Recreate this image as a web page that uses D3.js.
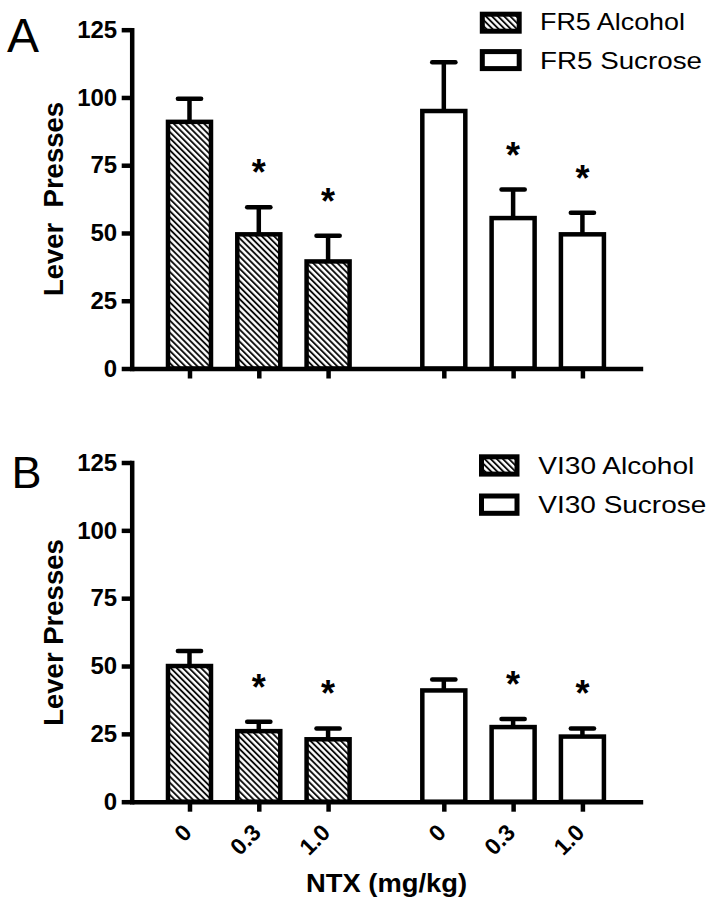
<!DOCTYPE html>
<html><head><meta charset="utf-8">
<script src="https://cdn.jsdelivr.net/npm/d3@7"></script>
<style>
body{margin:0;background:#fff}
svg{display:block}
text{font-family:"Liberation Sans",Arial,Helvetica,sans-serif;fill:#000}
</style>
</head><body><svg id="chart" width="716" height="911"></svg>
<script>
// ---------- data ----------
const doses = ["0", "0.3", "1.0"];
const yTickValues = [0, 25, 50, 75, 100, 125];
const fr5Alcohol = [91, 49.5, 39.5];
const fr5AlcoholSem = [8.5, 10, 9.5];
const fr5Sucrose = [95, 55.5, 49.5];
const fr5SucroseSem = [18, 10.5, 8];
const vi30Alcohol = [50, 26, 23];
const vi30AlcoholSem = [5.5, 3.5, 4];
const vi30Sucrose = [41, 27.5, 24];
const vi30SucroseSem = [4, 3, 3];
const significant = [false, true, true];
const panelLetters = ["A", "B"];
const legendA = ["FR5 Alcohol", "FR5 Sucrose"];
const legendB = ["VI30 Alcohol", "VI30 Sucrose"];
const yTitles = ["Lever\u00a0 Presses", "Lever Presses"];
const xTitle = "NTX (mg/kg)";

// ---------- layout ----------
const svg = d3.select("#chart");
const defs = svg.append("defs");
const pat = defs.append("pattern").attr("id", "hatch")
  .attr("patternUnits", "userSpaceOnUse").attr("width", 4.3).attr("height", 10)
  .attr("patternTransform", "rotate(-45)");
pat.append("rect").attr("width", 4.3).attr("height", 10).attr("fill", "#fff");
pat.append("line").attr("x1", 1).attr("x2", 1).attr("y1", 0).attr("y2", 10)
  .attr("stroke", "#000").attr("stroke-width", 1.8);

const SW = 4.5;
const axisX = 131.7;
const x = d3.scaleLinear().domain([-0.834, 6.54]).range([131.7, 642.7]);
const groupOffset = [0, 3.67];
const barW = 43;

const panels = [
  { letter: panelLetters[0], letterSize: 48, letterX: 7, letterY: 52,
    y0: 368.5, y1: 29.7, title: yTitles[0], titleCy: 199,
    series: [
      { vals: fr5Alcohol, sem: fr5AlcoholSem, fill: "url(#hatch)", name: legendA[0] },
      { vals: fr5Sucrose, sem: fr5SucroseSem, fill: "#fff", name: legendA[1] } ],
    legend: { sx: 482.3, sw: 36.9, sy: [14.2, 51.6], sh: 17, tx: 540, ty: [30, 68.5], tl: [145, 162] },
    showLabels: false },
  { letter: panelLetters[1], letterSize: 45, letterX: 11.5, letterY: 488,
    y0: 801.7, y1: 462.5, title: yTitles[1], titleCy: 632.5,
    series: [
      { vals: vi30Alcohol, sem: vi30AlcoholSem, fill: "url(#hatch)", name: legendB[0] },
      { vals: vi30Sucrose, sem: vi30SucroseSem, fill: "#fff", name: legendB[1] } ],
    legend: { sx: 481.5, sw: 35.5, sy: [456.8, 496], sh: 17.3, tx: 538.3, ty: [474, 512.7], tl: [156, 168] },
    showLabels: true }
];

panels.forEach(p => {
  const y = d3.scaleLinear().domain([0, 125]).range([p.y0, p.y1]);
  const g = svg.append("g");

  // panel letter
  g.append("text").attr("x", p.letterX).attr("y", p.letterY)
    .attr("font-size", p.letterSize).text(p.letter);

  // y title
  g.append("text").attr("transform", `translate(62.5,${p.titleCy}) rotate(-90)`)
    .attr("text-anchor", "middle").attr("font-size", 27.5).attr("font-weight", "bold")
    .text(p.title);

  // bars
  p.series.forEach((s, si) => {
    const slots = s.vals.map((v, i) => i + groupOffset[si]);
    const bg = g.append("g");
    s.vals.forEach((v, i) => {
      const cx = x(slots[i]);
      const top = y(v + s.sem[i]);
      // error stem
      bg.append("line").attr("x1", cx).attr("x2", cx).attr("y1", y(v)).attr("y2", top)
        .attr("stroke", "#000").attr("stroke-width", SW);
      bg.append("line").attr("x1", cx - 11.6).attr("x2", cx + 11.6).attr("y1", top).attr("y2", top)
        .attr("stroke", "#000").attr("stroke-width", SW).attr("stroke-linecap", "round");
      bg.append("rect").attr("x", cx - barW / 2).attr("width", barW)
        .attr("y", y(v)).attr("height", y(0) - y(v))
        .attr("fill", s.fill).attr("stroke", "#000").attr("stroke-width", SW);
      if (significant[i]) {
        bg.append("text").attr("x", cx).attr("y", top - 22)
          .attr("text-anchor", "middle").attr("font-size", 36).attr("font-weight", "bold")
          .text("*");
      }
    });
  });

  // y axis
  const ya = g.append("g").attr("transform", `translate(${axisX},0)`)
    .call(d3.axisLeft(y).tickValues(yTickValues).tickSize(10).tickSizeOuter(0).tickPadding(4.5));
  ya.select(".domain").attr("stroke-width", SW).attr("stroke-linecap", "square");
  ya.selectAll(".tick line").attr("stroke-width", SW);
  ya.selectAll(".tick text").attr("font-size", 24).attr("font-weight", "bold")
    .attr("font-family", "Liberation Sans, Arial, sans-serif");

  // x axis
  const allSlots = [];
  p.series.forEach((s, si) => s.vals.forEach((v, i) => allSlots.push({ slot: i + groupOffset[si], label: doses[i] })));
  const labelMap = new Map(allSlots.map(d => [d.slot, d.label]));
  const xa = g.append("g").attr("transform", `translate(0,${p.y0})`)
    .call(d3.axisBottom(x).tickValues(allSlots.map(d => d.slot)).tickSize(10).tickSizeOuter(0)
      .tickFormat(d => p.showLabels ? labelMap.get(d) : ""));
  xa.select(".domain").attr("stroke-width", SW);
  xa.selectAll(".tick line").attr("stroke-width", SW);
  xa.selectAll(".tick text").attr("font-size", 23).attr("font-weight", "bold")
    .attr("font-family", "Liberation Sans, Arial, sans-serif")
    .attr("text-anchor", "end").attr("x", 0).attr("y", 0).attr("dy", 0)
    .attr("transform", "translate(3,32.3) rotate(-45)");

  // legend
  const L = p.legend;
  p.series.forEach((s, si) => {
    g.append("rect").attr("x", L.sx).attr("y", L.sy[si]).attr("width", L.sw).attr("height", L.sh)
      .attr("fill", s.fill).attr("stroke", "#000").attr("stroke-width", 5);
    g.append("text").attr("x", L.tx).attr("y", L.ty[si]).attr("font-size", 24)
      .attr("textLength", L.tl[si]).attr("lengthAdjust", "spacingAndGlyphs")
      .text(s.name);
  });
});

// x title
svg.append("text").attr("x", 306).attr("y", 892).attr("font-size", 25).attr("font-weight", "bold")
  .attr("textLength", 161).attr("lengthAdjust", "spacingAndGlyphs").text(xTitle);
</script>
</body></html>
